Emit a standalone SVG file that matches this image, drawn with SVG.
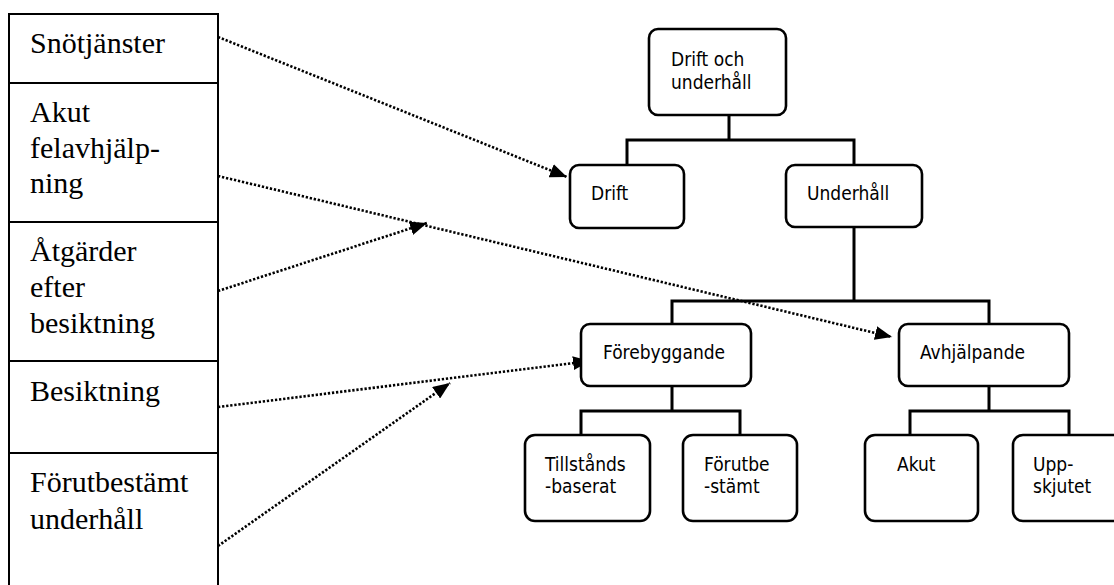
<svg xmlns="http://www.w3.org/2000/svg" width="1114" height="585" viewBox="0 0 1114 585">
  <style>
    .tbl { fill: none; stroke: #000; stroke-width: 2; }
    .lt { font-family: "Liberation Serif", "Times New Roman", serif; font-size: 30px; fill: #000; }
    .box { fill: #fff; stroke: #000; stroke-width: 2.6; }
    .nt { font-family: "DejaVu Sans Condensed", "DejaVu Sans", sans-serif; font-stretch: condensed; font-size: 19px; fill: #000; }
    .tree { fill: none; stroke: #000; stroke-width: 3; }
    .dot { fill: none; stroke: #000; stroke-width: 2.6; stroke-dasharray: 2.3 1.8; }
  </style>
  <defs>
    <marker id="arrow" viewBox="0 0 17 14" refX="17" refY="7" markerWidth="17" markerHeight="14" markerUnits="userSpaceOnUse" orient="auto">
      <path d="M0,0 L17,7 L0,14 Z" fill="#000"/>
    </marker>
  </defs>

  <rect width="1114" height="585" fill="#fff"/>

  <!-- activity list on the left -->
  <g id="activity-table">
    <path class="tbl" d="M9,590 V14 H218 V590 M9,83 H218 M9,222 H218 M9,361 H218 M9,453 H218"/>
    <text class="lt" x="30" y="53">Snötjänster</text>
    <text class="lt" x="30" y="122">Akut</text>
    <text class="lt" x="30" y="157.5">felavhjälp-</text>
    <text class="lt" x="30" y="193">ning</text>
    <text class="lt" x="30" y="261">Åtgärder</text>
    <text class="lt" x="30" y="297">efter</text>
    <text class="lt" x="30" y="333">besiktning</text>
    <text class="lt" x="30" y="401">Besiktning</text>
    <text class="lt" x="30" y="492">Förutbestämt</text>
    <text class="lt" x="30" y="529">underhåll</text>
  </g>

  <!-- tree connectors and dotted mapping arrows -->
  <g id="connectors">
    <path class="tree" d="M729,115 V140 M627,165 V140 H854 V165"/>
    <path class="tree" d="M854,227 V301 M672,324 V301 H989 V324"/>
    <path class="tree" d="M672,386 V411 M581,435 V411 H740 V435"/>
    <path class="tree" d="M989,386 V411 M910,435 V411 H1069 V435"/>

    <line class="dot" x1="218" y1="37" x2="567" y2="177" marker-end="url(#arrow)"/>
    <line class="dot" x1="218" y1="176" x2="892" y2="337" marker-end="url(#arrow)"/>
    <line class="dot" x1="218" y1="291" x2="427" y2="223" marker-end="url(#arrow)"/>
    <line class="dot" x1="218" y1="407" x2="590" y2="361" marker-end="url(#arrow)"/>
    <line class="dot" x1="218" y1="546" x2="450" y2="383" marker-end="url(#arrow)"/>
  </g>

  <g id="drift-och-underhall">
    <rect class="box" x="649" y="29" width="137" height="86" rx="9"/>
    <text class="nt" x="671" y="66">Drift och</text>
    <text class="nt" x="671" y="89">underhåll</text>
  </g>
  <g id="drift">
    <rect class="box" x="570" y="165" width="114" height="63" rx="9"/>
    <text class="nt" x="591" y="200">Drift</text>
  </g>
  <g id="underhall">
    <rect class="box" x="786" y="165" width="136" height="62" rx="9"/>
    <text class="nt" x="807" y="200">Underhåll</text>
  </g>
  <g id="forebyggande">
    <rect class="box" x="581" y="324" width="170" height="62" rx="9"/>
    <text class="nt" x="603" y="359">Förebyggande</text>
  </g>
  <g id="avhjalpande">
    <rect class="box" x="899" y="324" width="170" height="62" rx="9"/>
    <text class="nt" x="920" y="359">Avhjälpande</text>
  </g>
  <g id="tillstandsbaserat">
    <rect class="box" x="525" y="435" width="125" height="86" rx="10"/>
    <text class="nt" x="545" y="471">Tillstånds</text>
    <text class="nt" x="545" y="493">-baserat</text>
  </g>
  <g id="forutbestamt">
    <rect class="box" x="683" y="435" width="114" height="86" rx="10"/>
    <text class="nt" x="704" y="471">Förutbe</text>
    <text class="nt" x="704" y="493">-stämt</text>
  </g>
  <g id="akut">
    <rect class="box" x="865" y="435" width="113" height="86" rx="10"/>
    <text class="nt" x="897" y="471">Akut</text>
  </g>
  <g id="uppskjutet">
    <rect class="box" x="1013" y="435" width="130" height="86" rx="10"/>
    <text class="nt" x="1033" y="471">Upp-</text>
    <text class="nt" x="1033" y="493">skjutet</text>
  </g>
</svg>
